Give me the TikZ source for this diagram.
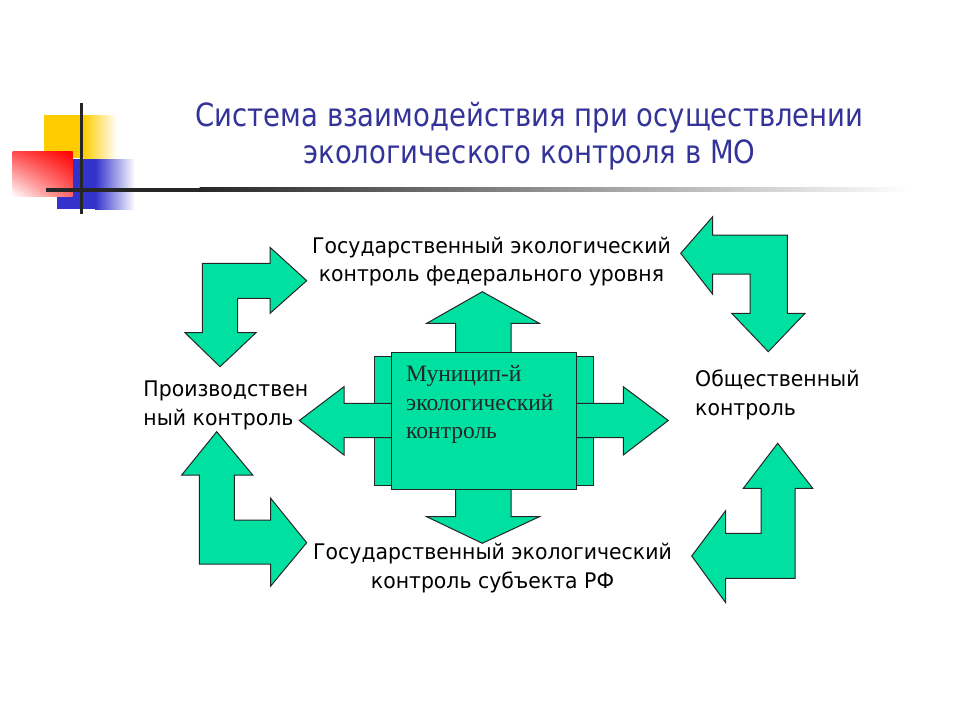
\documentclass[tikz,border=0pt]{standalone}
\usepackage{fontspec}
\setmainfont{Liberation Serif}
\setsansfont{DejaVu Sans}
\usepackage{xcolor}
\usetikzlibrary{shadings}
\definecolor{arrowgreen}{RGB}{0,224,160}
\definecolor{titleblue}{RGB}{51,51,153}
\definecolor{decoyellow}{RGB}{255,204,0}
\definecolor{decoblue}{RGB}{51,51,204}
\begin{document}
\begin{tikzpicture}[x=1pt,y=-1pt,
    arr/.style={fill=arrowgreen,draw=black!85,line width=1pt,line join=miter},
    lbl/.style={font=\sffamily\fontsize{21.5}{28.3}\selectfont,xscale=0.95,inner sep=0pt,anchor=base}]
\useasboundingbox (0,0) rectangle (960,720);
\fill[decoyellow] (44,115) rectangle (84,158.3);
\shade[left color=decoyellow,right color=white] (83.5,115) rectangle (117,158.3);
\fill[decoblue] (56.7,159) rectangle (95.5,209);
\shade[left color=decoblue,right color=white] (95,159) rectangle (135,209);
\shade[upper left=red!70,upper right=red,lower left=white,lower right=red!60] (12.7,151.7) rectangle (72.7,196.7);
\draw[line width=3pt,black!85] (81.7,103.3) -- (81.7,214.3);
\fill[black!85] (46,187.5) rectangle (200,191.5);
\shade[left color=black!85,right color=white] (199.5,187.5) rectangle (910,191.5);
\node[font=\sffamily\fontsize{32}{36.6}\selectfont,text=titleblue,align=center,xscale=0.86,inner sep=0pt,anchor=base] (title) at (529.5,163.3) {Система взаимодействия при осуществлении\\экологического контроля в МО};
\draw[arr] (202.3,263.3) -- (270,263.3) -- (270,247.3) -- (306.7,280.7) -- (270,313.3) -- (270,298.3) -- (237.7,298.3) -- (237.7,332.7) -- (256,332.7) -- (220,366.7) -- (185,332.7) -- (202.3,332.7) -- cycle;
\draw[arr] (680.7,253.3) -- (712.7,216.7) -- (712.7,235) -- (787.3,235) -- (787.3,313.3) -- (805,313.3) -- (768.3,351.7) -- (731.7,313.3) -- (750,313.3) -- (750,274) -- (712.7,274) -- (712.7,294.3) -- cycle;
\draw[arr] (216.7,431.7) -- (252.7,475) -- (234.3,475) -- (234.3,520) -- (270.7,520) -- (270.7,498.3) -- (306.7,542.7) -- (270.7,586) -- (270.7,564) -- (199.3,564) -- (199.3,475) -- (181.7,475) -- cycle;
\draw[arr] (777.7,443.3) -- (812.7,488.3) -- (795,488.3) -- (795,578.3) -- (725.7,578.3) -- (725.7,602.7) -- (691.7,556) -- (725.7,510.7) -- (725.7,533.3) -- (761,533.3) -- (761,488.3) -- (743.3,488.3) -- cycle;
\draw[arr] (374,356.7) rectangle (593.3,485);
\draw[arr] (482.3,291.7) -- (539.3,323.3) -- (511,323.3) -- (511,403.3) -- (623.3,403.3) -- (623.3,386.7) -- (668.3,420.5) -- (623.3,455) -- (623.3,437.7) -- (511,437.7) -- (511,516.7) -- (539.3,516.7) -- (482.3,543.3) -- (426.7,516.7) -- (455.7,516.7) -- (455.7,437.7) -- (344,437.7) -- (344,455) -- (299.3,420.5) -- (344,386.7) -- (344,403.3) -- (455.7,403.3) -- (455.7,323.3) -- (426.7,323.3) -- cycle;
\node[arr,minimum width=185pt,minimum height=136.7pt,inner sep=0pt] (munbox) at (483.5,420.7) {};
\node[font=\rmfamily\fontsize{23.5}{28.3}\selectfont,text=black!85,align=left,inner sep=0pt,anchor=base west] (mun) at (406,438.3) {Муницип-й\\экологический\\контроль};
\node[lbl,align=center] (fed) at (491.5,281.6) {Государственный экологический\\контроль федерального уровня};
\node[lbl,align=left,anchor=base west] (prod) at (143.3,425) {Производствен\\ный контроль};
\node[lbl,align=left,anchor=base west] (obsh) at (695,415) {Общественный\\контроль};
\node[lbl,align=center] (subj) at (492.5,588) {Государственный экологический\\контроль субъекта РФ};
\end{tikzpicture}
\end{document}
